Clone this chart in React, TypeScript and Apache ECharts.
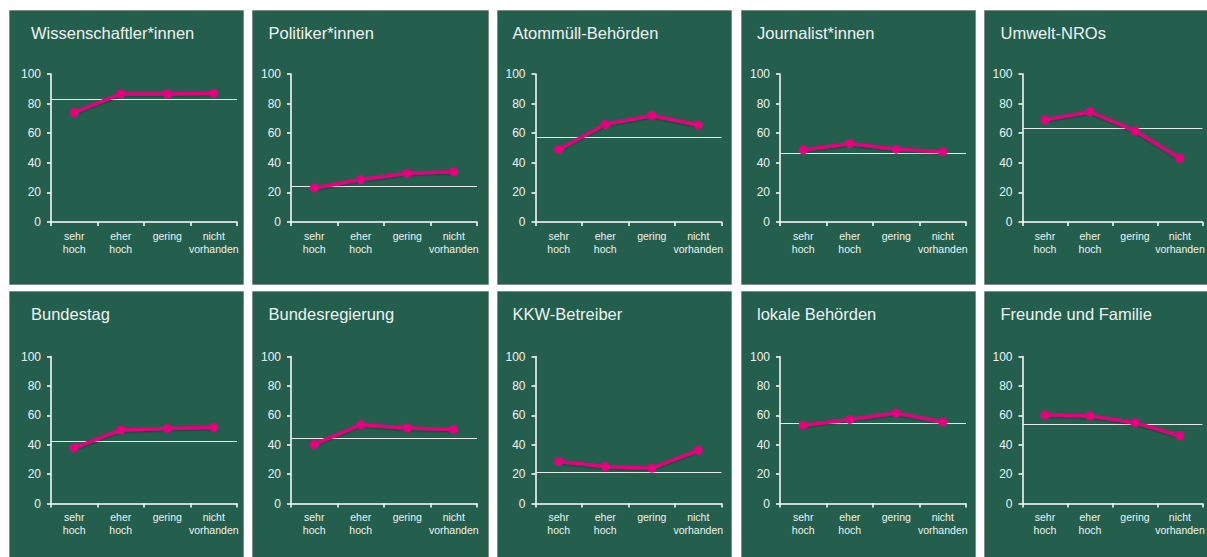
import React, { useEffect, useRef } from 'react';
import * as echarts from 'echarts';

const categories = ['sehr\nhoch', 'eher\nhoch', 'gering', 'nicht\nvorhanden'];
const yTicks = [0, 20, 40, 60, 80, 100];

const titles = [
  'Wissenschaftler*innen',
  'Politiker*innen',
  'Atommüll-Behörden',
  'Journalist*innen',
  'Umwelt-NROs',
  'Bundestag',
  'Bundesregierung',
  'KKW-Betreiber',
  'lokale Behörden',
  'Freunde und Familie',
];

const wissenschaftler = [74, 86.5, 86.5, 87];
const politiker = [23, 28.7, 33, 34];
const atommuell = [49, 66, 72, 65.5];
const journalisten = [48.7, 53, 49.2, 47.4];
const umwelt = [69, 74.5, 61.6, 43];
const bundestag = [37.8, 50, 51.1, 51.8];
const bundesregierung = [40.2, 53.6, 51.3, 50.4];
const kkw = [28.5, 25.1, 24, 36.2];
const lokal = [53.2, 57.2, 61.5, 55.4];
const freunde = [60.3, 59.6, 55, 46.1];

const averages = [83, 24, 57.5, 46.7, 63.6, 42.5, 44.1, 21.3, 54.3, 53.6];

const seriesValues = [
  wissenschaftler, politiker, atommuell, journalisten, umwelt,
  bundestag, bundesregierung, kkw, lokal, freunde,
];

export default function App() {
  const ref = useRef<HTMLDivElement>(null);
  useEffect(() => {
    const chart = echarts.init(ref.current!, null, { renderer: 'svg' });
    const font = "'Liberation Sans', Arial, sans-serif";
    const bg = '#245f4e';
    const textCol = '#eef2ef';
    const panelLeft = [9, 252, 497, 741, 984];
    const panelRight = [243, 488, 731, 975, 1220];
    const axisX = [51, 291, 535.5, 780, 1022.5];
    const titleX = [31, 268.5, 512.5, 757, 1000.5];
    const rowTop = [10, 291];
    const rowBottom = [284, 570];
    const plotTop = [74, 356.5];
    const plotH = [148, 147];
    const plotW = 186;

    const graphic: any[] = [];
    const title: any[] = [];
    const grid: any[] = [];
    const xAxis: any[] = [];
    const yAxis: any[] = [];
    const series: any[] = [];

    for (let i = 0; i < 10; i++) {
      const r = Math.floor(i / 5);
      const c = i % 5;
      graphic.push({
        type: 'rect',
        silent: true,
        z: -10,
        shape: { x: panelLeft[c] + 0.5, y: rowTop[r] + 0.5, width: panelRight[c] - panelLeft[c], height: rowBottom[r] - rowTop[r] },
        style: { fill: bg, stroke: '#7d8f87', lineWidth: 1 },
      });
      title.push({
        text: titles[i],
        left: titleX[c],
        top: rowTop[r] + 14,
        padding: 0,
        textStyle: { color: textCol, fontSize: 16.5, fontWeight: 'normal', fontFamily: font },
      });
      grid.push({ left: axisX[c], top: plotTop[r], width: plotW, height: plotH[r] });
      xAxis.push({
        type: 'category',
        gridIndex: i,
        data: categories,
        boundaryGap: true,
        axisLine: { lineStyle: { color: '#ffffff', width: 1.5 } },
        axisTick: { show: true, length: 4, lineStyle: { color: '#ffffff', width: 1.5 } },
        axisLabel: { color: textCol, fontSize: 10.5, lineHeight: 13, margin: 7, interval: 0, fontFamily: font },
      });
      yAxis.push({
        type: 'value',
        gridIndex: i,
        min: yTicks[0],
        max: yTicks[yTicks.length - 1],
        interval: 20,
        axisLine: { show: true, lineStyle: { color: '#ffffff', width: 1.5 } },
        axisTick: { show: true, length: 4, lineStyle: { color: '#ffffff', width: 1.5 } },
        splitLine: { show: false },
        axisLabel: { color: textCol, fontSize: 12, margin: 10, fontFamily: font },
      });
      series.push({
        type: 'line',
        xAxisIndex: i,
        yAxisIndex: i,
        data: seriesValues[i],
        symbol: 'circle',
        symbolSize: 9,
        lineStyle: { color: '#e6007e', width: 3.5, shadowColor: 'rgba(0,0,0,0.3)', shadowBlur: 2, shadowOffsetY: 1 },
        itemStyle: { color: '#e6007e' },
        z: 3,
        markLine: {
          silent: true,
          symbol: 'none',
          label: { show: false },
          lineStyle: { color: '#e4ebe7', width: 1, type: 'solid' },
          data: [{ yAxis: averages[i] }],
          z: 2,
        },
      });
    }

    chart.setOption({
      animation: false,
      backgroundColor: '#ffffff',
      graphic,
      title,
      grid,
      xAxis,
      yAxis,
      series,
    });
    return () => chart.dispose();
  }, []);
  return <div ref={ref} style={{ position: 'absolute', left: 0, top: 0, width: 1207, height: 557 }} />;
}
